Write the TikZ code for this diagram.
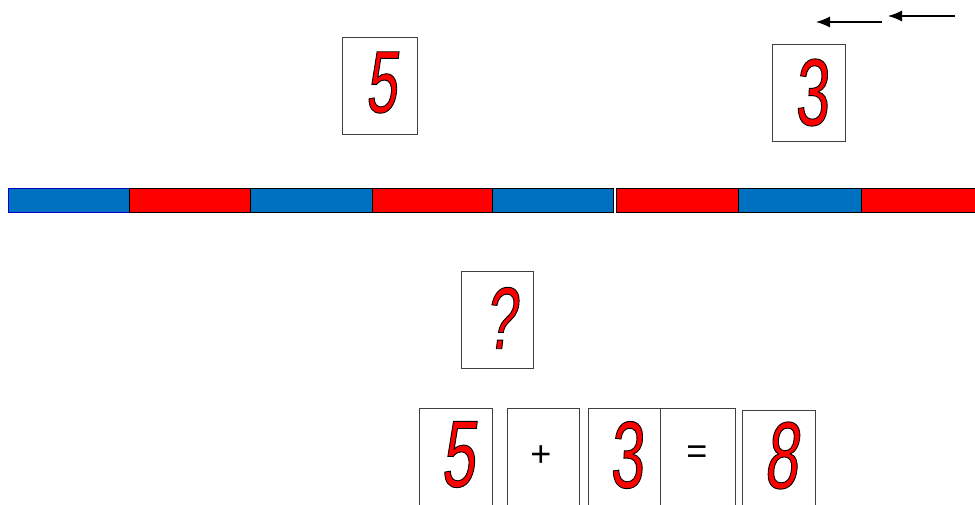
\documentclass[tikz,border=0pt]{standalone}
\usepackage{fontspec}
\usetikzlibrary{arrows.meta}
\newfontfamily\digR[FakeStretch=0.64,FakeSlant=0.12]{Liberation Sans}
\newfontfamily\digU[FakeStretch=0.64,FakeSlant=0.05]{Liberation Sans}
\newfontfamily\opfont{Liberation Sans}
\definecolor{segblue}{HTML}{0070C0}
\definecolor{segred}{HTML}{FF0000}
\definecolor{boxgray}{HTML}{404040}
\newcommand\outdig[1]{{\color{segred}\special{pdf:code 0 0 0 RG 0.9 w 2 Tr}\digR #1\special{pdf:code 0 Tr}}}
\newcommand\outdigu[1]{{\color{segred}\special{pdf:code 0 0 0 RG 0.9 w 2 Tr}\digU #1\special{pdf:code 0 Tr}}}
\tikzset{
  card/.style={draw=boxgray, line width=1pt, fill=white, inner sep=0pt},
  digit/.style={inner sep=0pt, font=\fontsize{88}{88}\selectfont},
  bigdigit/.style={inner sep=0pt, font=\fontsize{95}{95}\selectfont},
  opsign/.style={inner sep=0pt, font=\opfont\fontsize{36}{36}\selectfont},
  seg/.style={draw=black, line width=0.8pt, inner sep=0pt, minimum height=24pt},
  arr/.style={line width=1.3pt, -{Latex[length=14pt,width=11pt]}}
}
\begin{document}
\begin{tikzpicture}[x=1pt,y=-1pt]
\useasboundingbox (0,0) rectangle (975,505);
% top cards
\node[card, minimum width=75pt, minimum height=97pt] (c5) at (379.5,86.5) {};
\node[digit] (t5) at (380.8,82.5) {\outdig{5}};
\node[card, minimum width=73pt, minimum height=97pt] (c3) at (808.5,93.5) {};
\node[bigdigit] (t3) at (812,92.5) {\outdigu{3}};
% arrows
\coordinate (a1s) at (882,22); \coordinate (a1e) at (816,22);
\coordinate (a2s) at (955,16); \coordinate (a2e) at (888,16);
\draw[arr] (a1s) -- (a1e);
\draw[arr] (a2s) -- (a2e);
% bar
\node[seg, fill=segblue, draw=blue!80!black, minimum width=121pt] (s1) at (68.5,200) {};
\node[seg, fill=segred, minimum width=121pt] (s2) at (189.5,200) {};
\node[seg, fill=segblue, minimum width=122pt] (s3) at (311,200) {};
\node[seg, fill=segred, minimum width=120pt] (s4) at (432,200) {};
\node[seg, fill=segblue, minimum width=121pt] (s5) at (552.5,200) {};
\node[seg, fill=segred, minimum width=122pt] (s6) at (677,200) {};
\node[seg, fill=segblue, minimum width=123pt] (s7) at (799.5,200) {};
\node[seg, fill=segred, minimum width=123pt] (s8) at (922.5,200) {};
% question card
\node[card, minimum width=72pt, minimum height=96pt] (cq) at (497,320) {};
\node[digit] (tq) at (500,318) {\outdig{?}};
% equation
\node[card, minimum width=73pt, minimum height=97pt] (e1) at (455.5,456.5) {};
\node[bigdigit] (e1t) at (457.5,454.5) {\outdig{5}};
\node[card, minimum width=72pt, minimum height=97pt] (e2) at (543,456.5) {};
\node[opsign] (e2t) at (541,456) {+};
\node[card, minimum width=72pt, minimum height=97pt] (e3) at (624,456.5) {};
\node[bigdigit] (e3t) at (627,455) {\outdigu{3}};
\node[card, minimum width=75pt, minimum height=97pt] (e4) at (697.5,456.5) {};
\node[opsign] (e4t) at (697,455) {=};
\node[card, minimum width=73pt, minimum height=96pt] (e5) at (778.5,458) {};
\node[bigdigit] (e5t) at (780.5,455.5) {\outdig{8}};
\end{tikzpicture}
\end{document}
